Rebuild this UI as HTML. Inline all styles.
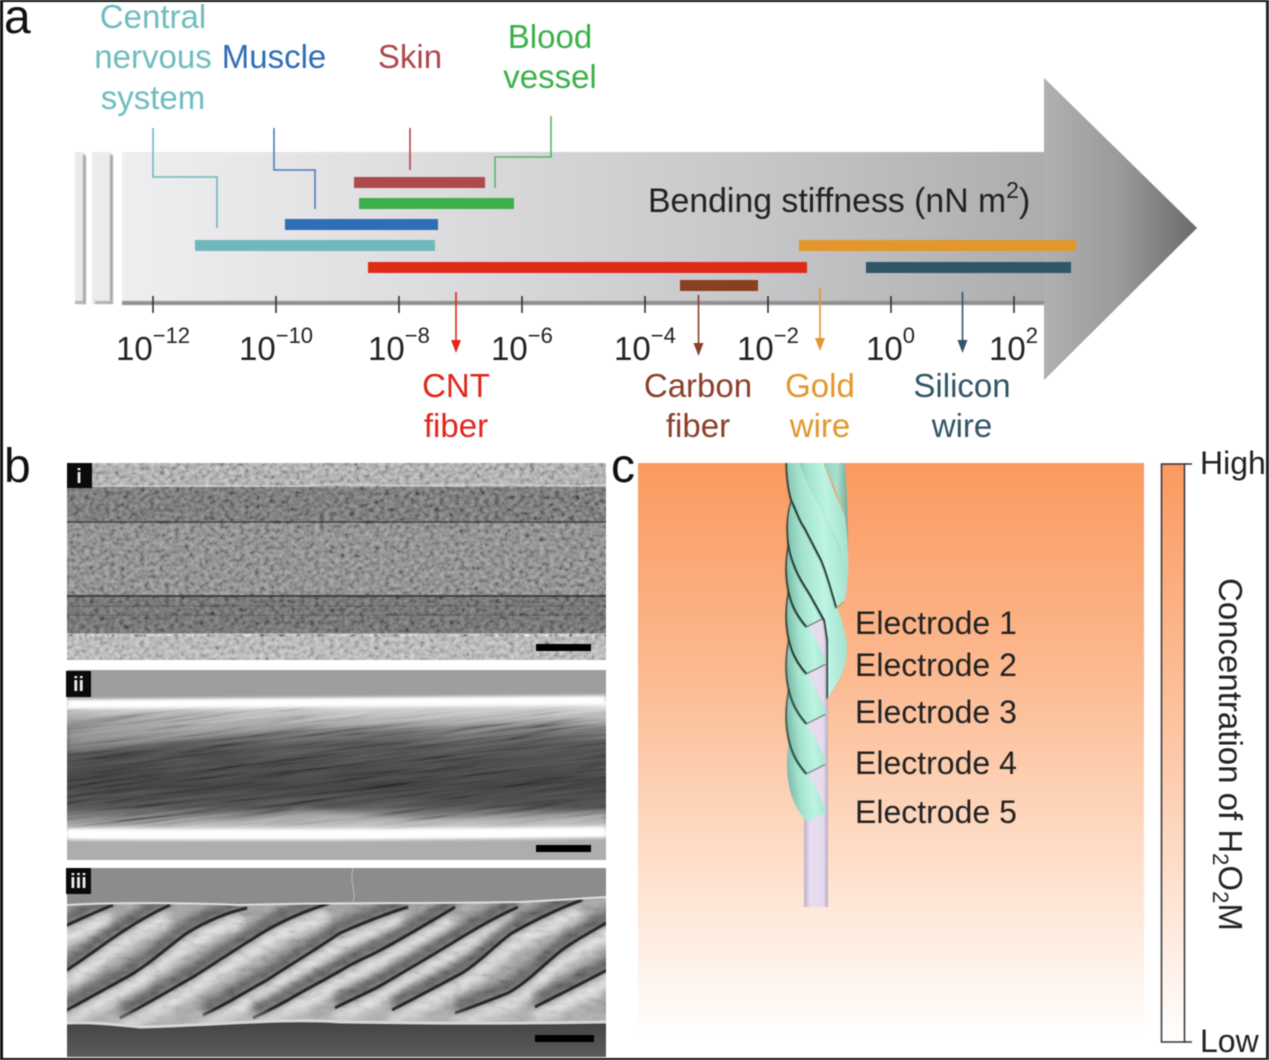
<!DOCTYPE html>
<html><head><meta charset="utf-8"><style>
html,body{margin:0;padding:0;background:#fff}
svg{display:block;filter:blur(.55px)}
text{font-family:"Liberation Sans",sans-serif}
</style></head><body>
<svg width="1269" height="1060" viewBox="0 0 1269 1060" xmlns="http://www.w3.org/2000/svg">
<defs>
<linearGradient id="shaft" gradientUnits="userSpaceOnUse" x1="122" y1="0" x2="1044" y2="0"><stop offset="0" stop-color="#efeef0"/><stop offset=".35" stop-color="#dcdbdd"/><stop offset=".7" stop-color="#c6c5c8"/><stop offset="1" stop-color="#adacae"/></linearGradient>
<linearGradient id="head" gradientUnits="userSpaceOnUse" x1="1044" y1="0" x2="1197" y2="0"><stop offset="0" stop-color="#b0afb1"/><stop offset=".5" stop-color="#9a999b"/><stop offset="1" stop-color="#6a6a6b"/></linearGradient>
<linearGradient id="c-bg" x1="0" y1="0" x2="0" y2="1"><stop offset="0" stop-color="#fb9a60"/><stop offset=".35" stop-color="#fcb88e"/><stop offset=".7" stop-color="#fee0cc"/><stop offset="1" stop-color="#ffffff"/></linearGradient>
<linearGradient id="c-bar" x1="0" y1="0" x2="0" y2="1"><stop offset="0" stop-color="#fb9a60"/><stop offset=".5" stop-color="#fdc8a8"/><stop offset="1" stop-color="#ffffff"/></linearGradient>
<linearGradient id="core" x1="0" y1="0" x2="1" y2="0"><stop offset="0" stop-color="#bdb0c6"/><stop offset=".25" stop-color="#e8dcf0"/><stop offset=".8" stop-color="#e6daee"/><stop offset="1" stop-color="#b8adc0"/></linearGradient>
<linearGradient id="st" x1="0" y1=".62" x2="1" y2=".38"><stop offset="0" stop-color="#74b3a0"/><stop offset=".3" stop-color="#a4e2cf"/><stop offset=".6" stop-color="#bdf4e3"/><stop offset="1" stop-color="#a0dcc9"/></linearGradient>
<linearGradient id="stb" x1="0" y1="0" x2="1" y2="0"><stop offset="0" stop-color="#8cc8b6"/><stop offset=".6" stop-color="#a8e2cf"/><stop offset="1" stop-color="#7aa896"/></linearGradient>
<linearGradient id="pii" x1="0" y1="0" x2="0" y2="1"><stop offset="0" stop-color="#f4f4f4"/><stop offset=".06" stop-color="#bdbdbd"/><stop offset=".17" stop-color="#787878"/><stop offset=".32" stop-color="#4c4c4c"/><stop offset=".62" stop-color="#3c3c3c"/><stop offset=".78" stop-color="#4a4a4a"/><stop offset=".91" stop-color="#8e8e8e"/><stop offset="1" stop-color="#eee"/></linearGradient>
<linearGradient id="botbg" x1="0" y1="0" x2="0" y2="1"><stop offset="0" stop-color="#3f3f3f"/><stop offset="1" stop-color="#5c5c5c"/></linearGradient>
<filter id="tem" x="0" y="0" width="100%" height="100%"><feTurbulence type="fractalNoise" baseFrequency=".2 .24" numOctaves="3" seed="9"/><feColorMatrix values="1.5 0 0 0 -.25  1.5 0 0 0 -.25  1.5 0 0 0 -.25  0 0 0 0 1"/></filter>
<filter id="fib" x="-10%" y="-10%" width="120%" height="120%"><feTurbulence type="fractalNoise" baseFrequency=".012 .32" numOctaves="3" seed="6"/><feColorMatrix values="1.7 0 0 0 -.35  1.7 0 0 0 -.35  1.7 0 0 0 -.35  0 0 0 0 1"/></filter>
<filter id="grain" x="0" y="0" width="100%" height="100%"><feTurbulence type="fractalNoise" baseFrequency=".08 .18" numOctaves="3" seed="3"/><feColorMatrix values="1.5 0 0 0 -.25  1.5 0 0 0 -.25  1.5 0 0 0 -.25  0 0 0 0 1"/></filter>
<filter id="b05" filterUnits="userSpaceOnUse" x="0" y="0" width="1269" height="1060"><feGaussianBlur stdDeviation=".6"/></filter>
<filter id="b15" filterUnits="userSpaceOnUse" x="0" y="0" width="1269" height="1060"><feGaussianBlur stdDeviation="1.600"/></filter>
<filter id="b3" filterUnits="userSpaceOnUse" x="0" y="0" width="1269" height="1060"><feGaussianBlur stdDeviation="3"/></filter>
<filter id="b4" filterUnits="userSpaceOnUse" x="0" y="0" width="1269" height="1060"><feGaussianBlur stdDeviation="4.500"/></filter>
<clipPath id="c1"><rect x="67" y="463" width="539" height="197"/></clipPath>
<clipPath id="c2"><rect x="67" y="670" width="539" height="190"/></clipPath>
<clipPath id="c3"><rect x="67" y="868" width="539" height="189"/></clipPath>
<clipPath id="iib"><path d="M67 706L606 702V836L67 836Z"/></clipPath>
<clipPath id="crope"><rect x="760" y="463" width="120" height="450"/></clipPath>
<clipPath id="rope"><path d="M67 905C120 902 200 903 240 905C330 902 420 904 520 902C560 900 590 898 606 897V1022C500 1024 420 1023 340 1022C280 1018 220 1025 140 1027C110 1024 90 1022 67 1023Z"/></clipPath>
<g id="grooves" fill="none">
<path d="M50 932L67 925C85 917 100 910 113 905"/>
<path d="M50 982L67 970C85 958 100 947 110 940C130 926 150 914 170 905"/>
<path d="M50 1018L67 1010L127 977C150 964 170 945 187 933C205 922 225 913 247 908"/>
<path d="M120 1018C145 1005 170 990 193 977C220 960 245 943 267 930C288 918 308 910 330 903"/>
<path d="M203 1015C225 1005 245 992 267 980C290 965 315 950 340 933C365 922 385 914 408 907"/>
<path d="M253 1018C270 1010 285 1002 300 993C320 982 335 974 345 968C355 962 365 958 375 953C400 940 430 922 455 907"/>
<path d="M335 1008C350 1000 370 992 385 983C410 968 438 952 462 937C480 926 500 915 518 907"/>
<path d="M392 1010C415 998 440 985 462 973C480 962 495 945 512 933C535 920 560 908 582 900"/>
<path d="M455 1013C475 1006 490 1000 508 993C528 982 545 963 562 950C578 938 595 930 620 915"/>
<path d="M535 1007C560 994 585 982 620 963"/>
</g>
<path id="es" d="M790 736C786 755 785 775 792 797C796 808 801 815 807 822L827 812C823 803 819 795 815 787C811 778 807 771 803 763C799 755 795 745 790 736Z"/>
<path id="s0" d="M792 500C787 515 786 540 793 560C798 575 805 585 810 593L825 620L828 640V698C840 680 848 665 847 647C846 630 843 625 837 607C832 590 828 575 822 560C815 545 803 520 792 500Z"/>
<path id="t1" d="M787 460C787 475 789 490 792 500C797 510 800 520 805 527L822 560C828 575 832 590 837 607L845 600C848 585 848 578 846 570C843 560 840 550 838 543L822 510L808 483L798 460Z"/>
<path id="t2" d="M798 460L808 483L822 510L838 543C842 555 845 570 846 590L845 600C848 580 849 570 848 555C848 540 846 525 845 517C841 505 835 495 830 480L822 460Z"/>
</defs>

<rect width="1269" height="1060" fill="#fff"/>

<!-- panel a arrow -->
<path d="M122 152H1044V78L1197 228L1044 380V303H122Z" fill="url(#shaft)"/>
<path d="M1044 78L1197 228L1044 380Z" fill="url(#head)"/>
<rect x="122" y="301" width="922" height="4" fill="#8e8e90" filter="url(#b05)"/>
<rect x="75" y="152" width="10" height="152" fill="#ebebec"/>
<rect x="92" y="152" width="20" height="152" fill="#ebebec"/>
<rect x="83" y="155" width="3" height="149" fill="#a8a8a8" filter="url(#b05)"/>
<rect x="110" y="155" width="3" height="149" fill="#a8a8a8" filter="url(#b05)"/>
<rect x="75" y="301" width="10" height="3" fill="#b0b0b0" filter="url(#b05)"/>
<rect x="95" y="301" width="17" height="3" fill="#b0b0b0" filter="url(#b05)"/>

<!-- ticks -->
<path d="M153 296V313M276 296V313M399 296V313M522 296V313M645 296V313M768 296V313M891 296V313M1014 296V313" stroke="#333" stroke-width="1.600"/>

<!-- bars -->
<rect x="354" y="177" width="131" height="11" fill="#ad4a4c"/>
<rect x="359" y="198" width="155" height="11" fill="#3bb04a"/>
<rect x="285" y="219" width="153" height="11" fill="#2f6db5"/>
<rect x="195" y="240" width="240" height="11" fill="#6fb8bc"/>
<rect x="368" y="262" width="439" height="11" fill="#e02a18"/>
<rect x="680" y="280" width="78" height="11" fill="#8a3f20"/>
<rect x="799" y="240" width="277" height="11" fill="#e3962c"/>
<rect x="866" y="262" width="205" height="11" fill="#2f5566"/>

<!-- leaders -->
<g fill="none" stroke-width="1.600">
<path d="M153 128V177H217V228" stroke="#6fb8bc"/>
<path d="M274 128V170H315V209" stroke="#4a7cc0"/>
<path d="M410 128V170" stroke="#b0464b"/>
<path d="M551 116V157H495V188" stroke="#55b860"/>
</g>

<!-- down arrows -->
<path d="M456 292V345" stroke="#e0261c" stroke-width="1.600"/><path d="M451 340L456 353L461 340Z" fill="#e0261c"/>
<path d="M698.500 295V348" stroke="#8a3f2a" stroke-width="1.600"/><path d="M693.500 343L698.500 356L703.500 343Z" fill="#8a3f2a"/>
<path d="M820 288V343" stroke="#e3962c" stroke-width="1.600"/><path d="M815 338L820 351L825 338Z" fill="#e3962c"/>
<path d="M962.500 292V345" stroke="#2f5566" stroke-width="1.600"/><path d="M957.500 340L962.500 353L967.500 340Z" fill="#2f5566"/>

<!-- axis labels -->
<g font-size="33" fill="#222">
<text x="116" y="360">10<tspan font-size="22" dy="-17">−12</tspan></text>
<text x="239" y="360">10<tspan font-size="22" dy="-17">−10</tspan></text>
<text x="368" y="360">10<tspan font-size="22" dy="-17">−8</tspan></text>
<text x="491" y="360">10<tspan font-size="22" dy="-17">−6</tspan></text>
<text x="614" y="360">10<tspan font-size="22" dy="-17">−4</tspan></text>
<text x="737" y="360">10<tspan font-size="22" dy="-17">−2</tspan></text>
<text x="866" y="360">10<tspan font-size="22" dy="-17">0</tspan></text>
<text x="989" y="360">10<tspan font-size="22" dy="-17">2</tspan></text>
<text x="648" y="212" font-size="33.800">Bending stiffness (nN m<tspan font-size="23" dy="-14">2</tspan><tspan dy="14">)</tspan></text>
</g>

<!-- category labels -->
<g font-size="33" text-anchor="middle">
<g fill="#6fbcbf"><text x="153" y="28">Central</text><text x="153" y="68">nervous</text><text x="153" y="109">system</text></g>
<text x="274" y="68" fill="#2f6db5">Muscle</text>
<text x="410" y="68" fill="#b0464b">Skin</text>
<g fill="#3bb04a"><text x="550" y="48">Blood</text><text x="550" y="88">vessel</text></g>
<g fill="#e0261c"><text x="456" y="397">CNT</text><text x="456" y="437">fiber</text></g>
<g fill="#8a3f2a"><text x="698" y="397">Carbon</text><text x="698" y="437">fiber</text></g>
<g fill="#e3962c"><text x="820" y="397">Gold</text><text x="820" y="437">wire</text></g>
<g fill="#2f5566"><text x="962" y="397">Silicon</text><text x="962" y="437">wire</text></g>
</g>

<!-- panel letters -->
<g font-size="48" fill="#111">
<text x="4" y="33">a</text>
<text x="4" y="482">b</text>
<text x="611" y="482">c</text>
</g>

<!-- panel b i -->
<g clip-path="url(#c1)">
<rect x="67" y="463" width="539" height="197" filter="url(#tem)"/>
<rect x="67" y="463" width="539" height="24" fill="#aeaeae" opacity=".6"/>
<rect x="67" y="487" width="539" height="36" fill="#585858" opacity=".6"/>
<rect x="67" y="523" width="539" height="72" fill="#7a7a7a" opacity=".6"/>
<rect x="67" y="595" width="539" height="39" fill="#565656" opacity=".65"/>
<rect x="67" y="636" width="539" height="24" fill="#bcbcbc" opacity=".65"/>
<path d="M67 522H606" stroke="#2f2f2f" stroke-width="1.500" opacity=".7"/>
<path d="M67 596H606" stroke="#2d2d2d" stroke-width="2" opacity=".75"/>
<path d="M67 606H606M67 615H606" stroke="#3a3a3a" stroke-width="1" opacity=".35"/>
<path d="M67 486H300C340 482 400 487 460 485C520 483 560 487 606 485" fill="none" stroke="#d8d8d8" stroke-width="1.500" opacity=".7"/>
<path d="M67 634H606" stroke="#d0d0d0" stroke-width="1.500" opacity=".7"/>
<rect x="536" y="644" width="55" height="7" fill="#000"/>
</g>

<!-- panel b ii -->
<g clip-path="url(#c2)">
<rect x="67" y="670" width="539" height="190" fill="#adadad"/>
<rect x="67" y="670" width="539" height="30" fill="#9e9e9e"/>
<path d="M67 706L606 702V836L67 836Z" fill="url(#pii)"/>
<g clip-path="url(#iib)" opacity=".32" style="mix-blend-mode:overlay"><g transform="rotate(-7 336 770)"><rect x="20" y="690" width="640" height="160" filter="url(#fib)"/></g></g>
<path d="M67 832L240 822L300 808L420 820L606 812V830L67 838Z" fill="#ddd" opacity=".45" filter="url(#b3)"/>
<path d="M67 730L250 712L606 706V718L300 728L67 752Z" fill="#ddd" opacity=".35" filter="url(#b3)"/>
<path d="M67 704C200 703 400 703 606 700" fill="none" stroke="#fff" stroke-width="9" filter="url(#b15)"/>
<path d="M67 834C200 835 400 835 606 832" fill="none" stroke="#fff" stroke-width="11" filter="url(#b15)"/>
<rect x="536" y="845" width="55" height="7" fill="#000"/>
</g>

<!-- panel b iii -->
<g clip-path="url(#c3)">
<rect x="67" y="868" width="539" height="60" fill="#8c8c8c"/>
<rect x="67" y="1015" width="539" height="42" fill="url(#botbg)"/>
<g clip-path="url(#rope)">
<rect x="67" y="890" width="539" height="145" fill="#a4a4a4"/>
<use href="#grooves" stroke="#e4e4e4" stroke-width="15" transform="translate(-2 13)" filter="url(#b4)"/>
<use href="#grooves" stroke="#4a4a4a" stroke-width="10" transform="translate(0 -7)" filter="url(#b4)"/>
<rect x="67" y="890" width="539" height="145" filter="url(#grain)" opacity=".14"/>
<use href="#grooves" stroke="#1c1c1c" stroke-width="2.800" filter="url(#b05)"/>
<rect x="67" y="1012" width="539" height="18" fill="#c0c0c0" opacity=".4" filter="url(#b3)"/>
</g>
<path d="M67 905C120 902 200 903 240 905C330 902 420 904 520 902C560 900 590 898 606 897" fill="none" stroke="#dedede" stroke-width="2"/>
<path d="M67 1023C90 1022 110 1024 140 1027C220 1025 280 1018 340 1022C420 1023 500 1024 606 1022" fill="none" stroke="#d6d6d6" stroke-width="3"/>
<path d="M353 868C349 885 358 893 352 903" fill="none" stroke="#ccc" stroke-width="1" opacity=".7"/>
<rect x="535" y="1035" width="59" height="7" fill="#000"/>
</g>

<!-- tags -->
<rect x="67" y="463" width="25" height="25" fill="#0a0a0a"/>
<rect x="66" y="671" width="25" height="26" fill="#0a0a0a"/>
<rect x="66" y="868" width="25" height="26" fill="#0a0a0a"/>
<g font-size="20" font-weight="bold" fill="#eee" text-anchor="middle">
<text x="79" y="483">i</text><text x="78.500" y="691">ii</text><text x="78.500" y="888">iii</text>
</g>

<!-- panel c -->
<rect x="638" y="463" width="506" height="577" fill="url(#c-bg)"/>
<g clip-path="url(#crope)">
<!-- back strand -->
<path d="M820 460H845C846 480 848 500 848 555L845 517C840 500 832 480 822 460Z" fill="url(#stb)"/>
<!-- core -->
<rect x="804" y="610" width="24" height="297" fill="url(#core)"/>
<!-- electrodes, lowest first -->
<use href="#es" fill="url(#st)"/>
<use href="#es" fill="#2a423c" transform="translate(-1.500 -47.500)" filter="url(#b05)"/>
<use href="#es" fill="url(#st)" transform="translate(0 -49)"/>
<use href="#es" fill="#2a423c" transform="translate(-1.500 -97.500)" filter="url(#b05)"/>
<use href="#es" fill="url(#st)" transform="translate(0 -99)"/>
<use href="#es" fill="#1e302b" transform="translate(-1.500 -147.500)" filter="url(#b05)"/>
<use href="#es" fill="url(#st)" transform="translate(0 -149)"/>
<use href="#es" fill="#1e302b" transform="translate(-1.500 -194.500)" filter="url(#b05)"/>
<use href="#es" fill="url(#st)" transform="translate(0 -196)"/>
<!-- long strands -->
<use href="#s0" fill="#1e302b" transform="translate(-1.500 1.500)" filter="url(#b05)"/>
<use href="#s0" fill="url(#st)"/>
<use href="#t2" fill="#2a423c" transform="translate(-1.500 1.500)" filter="url(#b05)"/>
<use href="#t2" fill="url(#st)"/>
<use href="#t1" fill="#1e302b" transform="translate(-1.500 1.500)" filter="url(#b05)"/>
<use href="#t1" fill="url(#st)"/>
</g>
<g font-size="32" fill="#222">
<text x="855" y="634">Electrode 1</text>
<text x="855" y="676">Electrode 2</text>
<text x="855" y="723">Electrode 3</text>
<text x="855" y="774">Electrode 4</text>
<text x="855" y="823">Electrode 5</text>
</g>

<!-- colour bar -->
<rect x="1161.500" y="464" width="23" height="578" fill="url(#c-bar)" stroke="#333" stroke-width="1.500"/>
<path d="M1184 464H1192M1184 1042H1192" stroke="#333" stroke-width="1.500"/>
<text x="1200" y="474" font-size="32" fill="#222">High</text>
<text x="1200" y="1052" font-size="32" fill="#222">Low</text>
<text transform="translate(1219 578) rotate(90)" font-size="33" fill="#222">Concentration of H<tspan font-size="22" dy="6">2</tspan><tspan dy="-6">O</tspan><tspan font-size="22" dy="6">2</tspan><tspan dy="-6">M</tspan></text>

<!-- frame -->
<rect x="0" y="0" width="1269" height="2" fill="#111"/>
<rect x="0" y="0" width="3" height="1060" fill="#111"/>
<rect x="0" y="1058" width="1269" height="2" fill="#111"/>
<rect x="1266" y="0" width="3" height="1060" fill="#222"/>
</svg>
</body></html>
